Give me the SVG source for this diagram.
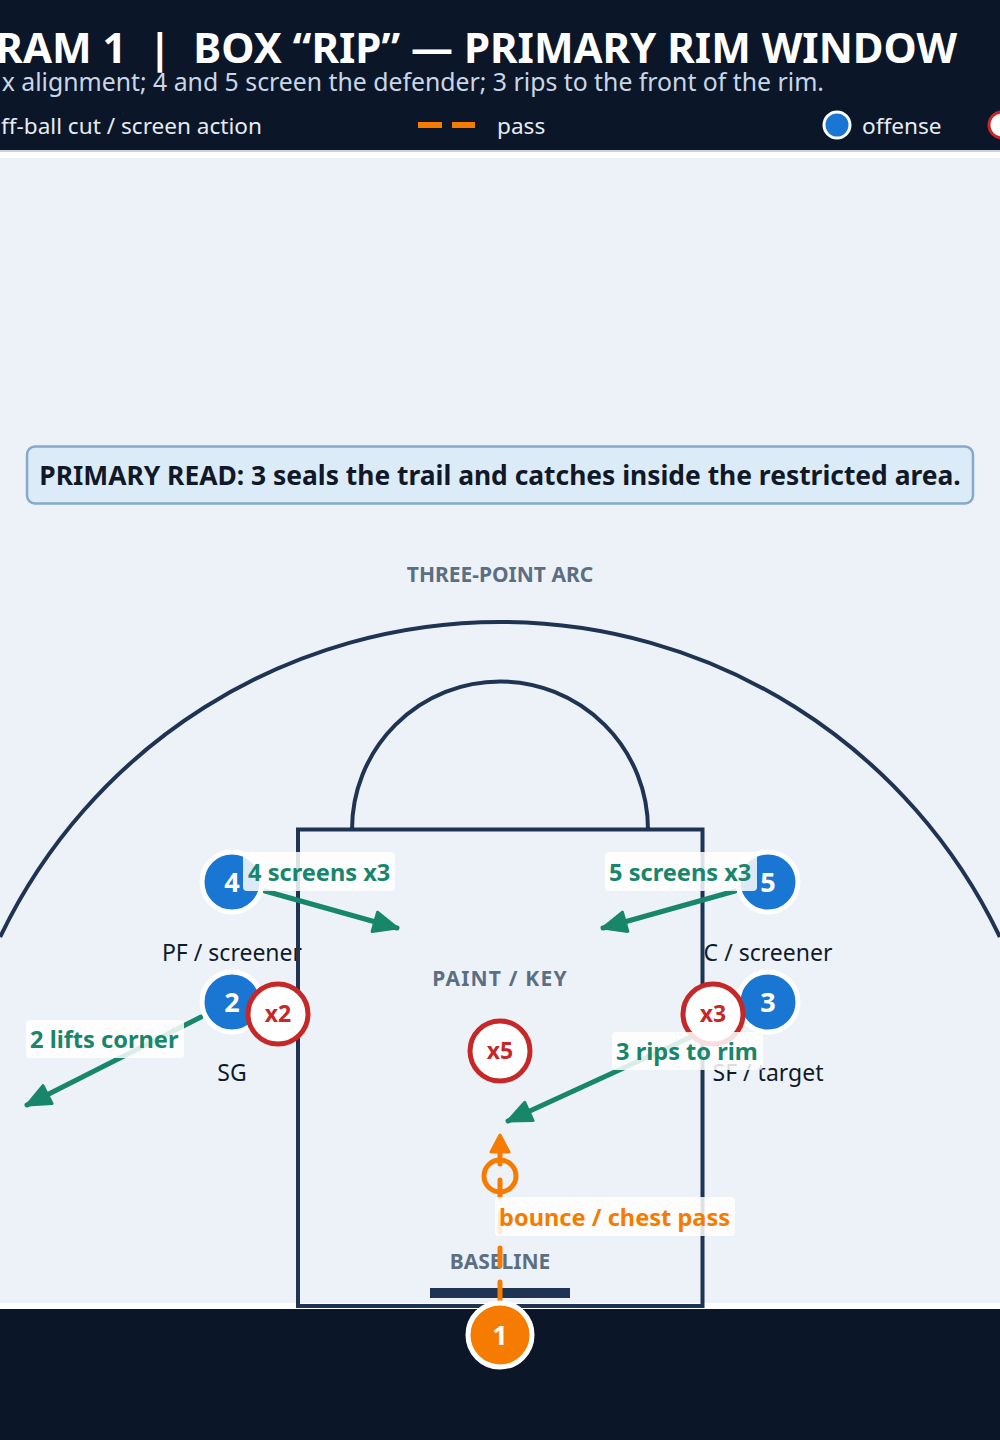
<svg xmlns="http://www.w3.org/2000/svg" width="1000" height="1440" viewBox="0 0 1000 1440">
<style>
  text { font-family: "Noto Sans", "DejaVu Sans", sans-serif; }
  .court { fill: none; stroke: #1F3352; stroke-width: 4; }
  .zone { font-size: 21px; font-weight: 700; fill: #5C6E82; text-anchor: middle; }
  .role { font-size: 23px; fill: #0F1B2D; text-anchor: middle; }
  .off circle { fill: #1976D2; stroke: #FFFFFF; stroke-width: 5; }
  .off text { font-size: 27px; font-weight: 700; fill: #FFFFFF; text-anchor: middle; }
  .def circle { fill: #FFFFFF; stroke: #C62828; stroke-width: 5; }
  .def text { font-size: 23px; font-weight: 700; fill: #C62828; text-anchor: middle; }
  .cut { fill: none; stroke: #17866A; stroke-width: 5; stroke-linecap: round; marker-end: url(#headGreen); }
  .pass { fill: none; stroke: #F57C00; stroke-width: 5; stroke-linecap: round; stroke-dasharray: 18 16; marker-end: url(#headOrange); }
  .lblbox { fill: #FFFFFF; fill-opacity: 0.85; }
  .lbl { font-size: 23.6px; font-weight: 700; fill: #17866A; }
  .lblp { font-size: 23.6px; font-weight: 700; fill: #F57C00; }
  .legend { font-size: 22.6px; fill: #E6ECF3; }
</style>
<defs>
  <marker id="headGreen" markerUnits="userSpaceOnUse" viewBox="0 0 28 26" markerWidth="28" markerHeight="26" refX="26" refY="13" orient="auto">
    <path d="M3,3 L26,13 L3,23 Z" fill="#17866A" stroke="#17866A" stroke-width="3" stroke-linejoin="round"/>
  </marker>
  <marker id="headOrange" markerUnits="userSpaceOnUse" viewBox="0 0 22 24" markerWidth="22" markerHeight="24" refX="20" refY="12" orient="auto">
    <path d="M3,3 L20,12 L3,21 Z" fill="#F57C00" stroke="#F57C00" stroke-width="3" stroke-linejoin="round"/>
  </marker>
</defs>

<!-- backgrounds -->
<rect x="0" y="0" width="1000" height="1440" fill="#FFFFFF"/>
<rect x="0" y="0" width="1000" height="150" fill="#0B1628"/>
<rect x="0" y="150" width="1000" height="2" fill="#C9D2DD"/>
<rect x="0" y="158" width="1000" height="1145" fill="#EDF2F9"/>
<rect x="0" y="1309" width="1000" height="131" fill="#0B1628"/>

<!-- header -->
<g id="header">
  <text x="957" y="63" font-size="42" font-weight="700" fill="#FFFFFF" text-anchor="end" xml:space="preserve" style="white-space:pre">RAM 1  |  BOX “RIP” — PRIMARY RIM WINDOW</text>
  <text x="824" y="91" font-size="24.8" fill="#C9D6E8" text-anchor="end">x alignment; 4 and 5 screen the defender; 3 rips to the front of the rim.</text>
</g>
<g id="legend">
  <text class="legend" x="262" y="134" text-anchor="end">ff-ball cut / screen action</text>
  <line x1="418" y1="125" x2="442" y2="125" stroke="#F57C00" stroke-width="6"/>
  <line x1="452" y1="125" x2="475" y2="125" stroke="#F57C00" stroke-width="6"/>
  <text class="legend" x="497" y="134">pass</text>
  <circle cx="837" cy="125" r="13" fill="#1976D2" stroke="#FFFFFF" stroke-width="3"/>
  <text class="legend" x="862" y="134">offense</text>
  <circle cx="1002" cy="125" r="13" fill="#FFFFFF" stroke="#C62828" stroke-width="3"/>
</g>

<!-- primary read callout -->
<g id="primary-read">
  <rect x="27" y="446.5" width="946" height="57" rx="8" fill="#DCEBF8" stroke="#84A9CC" stroke-width="2.5"/>
  <text x="500" y="485" font-size="26.4" font-weight="700" fill="#111827" text-anchor="middle">PRIMARY READ: 3 seals the trail and catches inside the restricted area.</text>
</g>

<!-- zone labels -->
<text class="zone" x="500" y="582">THREE-POINT ARC</text>
<text class="zone" x="500" y="986" font-size="23.5" letter-spacing="1.2">PAINT / KEY</text>
<text class="zone" x="500" y="1269">BASELINE</text>

<!-- role labels -->
<text class="role" x="232" y="961">PF / screener</text>
<text class="role" x="232" y="1081">SG</text>
<text class="role" x="768" y="961">C / screener</text>
<text class="role" x="768" y="1081">SF / target</text>

<!-- court -->
<g id="court">
  <path class="court" d="M 0.2 937 A 554 554 0 0 1 999.8 937" stroke-width="3.5"/>
  <rect class="court" x="298" y="829.5" width="404.5" height="476.5"/>
  <path class="court" d="M 352 829.5 A 148 148 0 0 1 648 829.5" stroke-width="3.8"/>
  <rect x="430" y="1288" width="140" height="10" fill="#1F3352"/>
  <circle cx="500" cy="1176" r="16" fill="none" stroke="#F57C00" stroke-width="5"/>
</g>

<!-- connectors -->
<g id="connectors">
  <line class="cut" x1="265" y1="891" x2="397" y2="928"/>
  <line class="cut" x1="735" y1="891" x2="603" y2="928"/>
  <line class="cut" x1="201" y1="1017" x2="27" y2="1105"/>
  <line class="cut" x1="737" y1="1016" x2="508" y2="1121"/>
  <line class="pass" x1="500" y1="1300" x2="500" y2="1135"/>
</g>

<!-- players -->
<g id="p4" class="off"><circle cx="232" cy="882" r="30"/><text x="232" y="892">4</text></g>
<g id="p5" class="off"><circle cx="768" cy="882" r="30"/><text x="768" y="892">5</text></g>
<g id="p2" class="off"><circle cx="232" cy="1002" r="30"/><text x="232" y="1012">2</text></g>
<g id="p3" class="off"><circle cx="768" cy="1002" r="30"/><text x="768" y="1012">3</text></g>
<g id="p1"><circle cx="500" cy="1335" r="32" fill="#F57C00" stroke="#FFFFFF" stroke-width="5"/><text x="500" y="1345" font-size="27" font-weight="700" fill="#FFFFFF" text-anchor="middle">1</text></g>

<!-- defenders -->
<g id="x2" class="def"><circle cx="278" cy="1014" r="30"/><text x="278" y="1022">x2</text></g>
<g id="x3" class="def"><circle cx="713" cy="1014" r="30"/><text x="713" y="1022">x3</text></g>
<g id="x5" class="def"><circle cx="500" cy="1051" r="30"/><text x="500" y="1059">x5</text></g>

<!-- connector labels -->
<g id="labels">
  <rect class="lblbox" x="243" y="852" width="152" height="39" rx="4"/>
  <text class="lbl" x="248" y="881">4 screens x3</text>
  <rect class="lblbox" x="605" y="852" width="152" height="39" rx="4"/>
  <text class="lbl" x="609" y="881">5 screens x3</text>
  <rect class="lblbox" x="26" y="1020" width="158" height="38" rx="4"/>
  <text class="lbl" x="30" y="1048">2 lifts corner</text>
  <rect class="lblbox" x="612" y="1032" width="151" height="38" rx="4"/>
  <text class="lbl" x="616" y="1060">3 rips to rim</text>
  <rect class="lblbox" x="495" y="1197" width="240" height="39" rx="4"/>
  <text class="lblp" x="499" y="1226">bounce / chest pass</text>
</g>
</svg>
